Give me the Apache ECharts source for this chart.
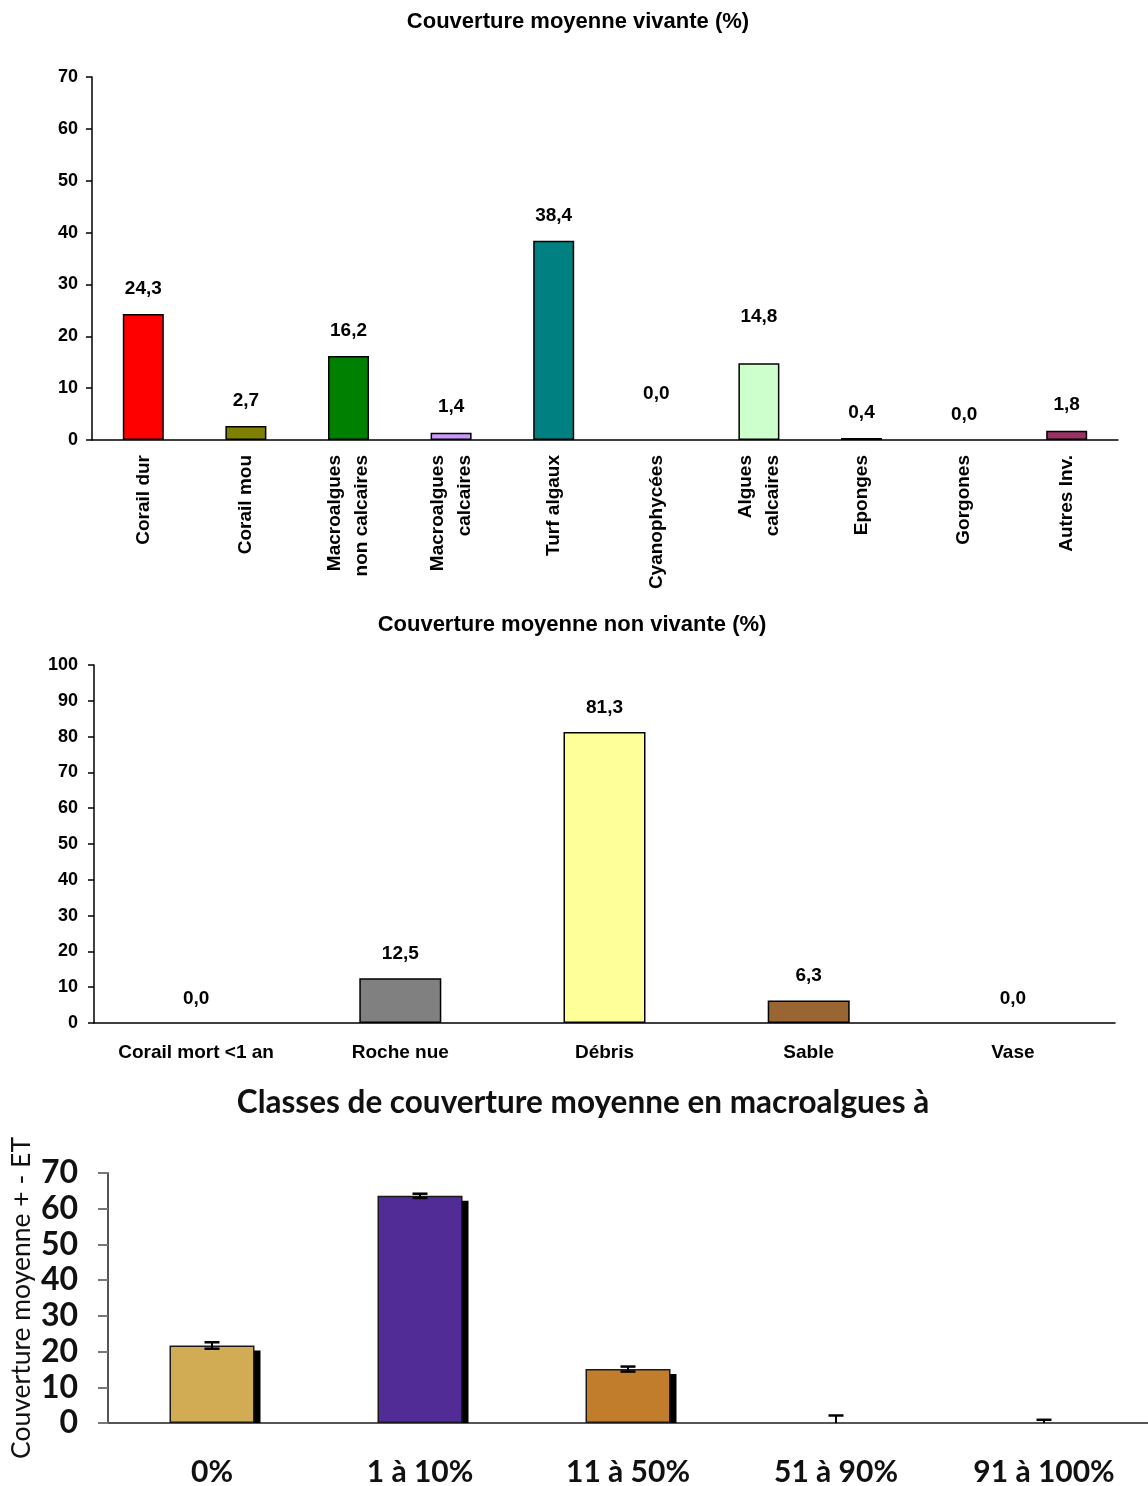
<!DOCTYPE html>
<html>
<head>
<meta charset="utf-8">
<script src="https://cdn.jsdelivr.net/npm/echarts@6/dist/echarts.min.js"></script>
<style>
  html, body { margin: 0; padding: 0; background: #ffffff; }
  #chart { width: 1148px; height: 1486px; }
</style>
</head>
<body>
<div id="chart"></div>
<script>
// --- Couverture moyenne vivante (%) ---
const livingCategories = ['Corail dur', 'Corail mou', 'Macroalgues\nnon calcaires', 'Macroalgues\ncalcaires',
  'Turf algaux', 'Cyanophycées', 'Algues\ncalcaires', 'Eponges', 'Gorgones', 'Autres Inv.'];
const livingValues = [24.3, 2.7, 16.2, 1.4, 38.4, 0.0, 14.8, 0.4, 0.0, 1.8];
const livingColors = ['#ff0000', '#808000', '#008000', '#cc99ff', '#008080', '#ffffff', '#ccffcc', '#333366', '#ffffff', '#993366'];
const livingTicks = [0, 10, 20, 30, 40, 50, 60, 70];

// --- Couverture moyenne non vivante (%) ---
const abioticCategories = ['Corail mort <1 an', 'Roche nue', 'Débris', 'Sable', 'Vase'];
const abioticValues = [0.0, 12.5, 81.3, 6.3, 0.0];
const abioticColors = ['#ffffff', '#808080', '#ffff99', '#996633', '#ffffff'];
const abioticTicks = [0, 10, 20, 30, 40, 50, 60, 70, 80, 90, 100];

// --- Classes de couverture moyenne en macroalgues ---
const classCategories = ['0%', '1 à 10%', '11 à 50%', '51 à 90%', '91 à 100%'];
const classMeans = [21.7, 63.6, 15.1, 0.0, 0.0];
const classErrors = [0.9, 0.6, 0.7, 2.1, 0.9];
const classColors = ['#d2ab55', '#512b96', '#c17c2c', '#888888', '#888888'];
const classTicks = [0, 10, 20, 30, 40, 50, 60, 70];

const SANS = "'Liberation Sans', Arial, sans-serif";
const SOFT = "Lato, 'Open Sans', sans-serif";
const CLASS_BAR_WIDTH = 85;

// labels that sit higher above their bar
const raisedLabels = { 'Cyanophycées': 37, 'Algues\ncalcaires': 37 };

const comma = v => v.toFixed(1).replace('.', ',');
// empty bars leave no outline on the axis
const outline = (v, color, width) => ({ borderColor: color, borderWidth: v > 0 ? width : 0 });

function valueAxis(ticks, gridIndex, extra) {
  return Object.assign({
    type: 'value', gridIndex,
    min: ticks[0], max: ticks[ticks.length - 1], interval: ticks[1] - ticks[0],
    splitLine: { show: false },
    axisLine: { show: true, lineStyle: { color: '#000', width: 1.5 } },
    axisTick: { show: true, length: 6, lineStyle: { color: '#000', width: 1.5 } },
    axisLabel: { color: '#000', fontFamily: SANS, fontWeight: 'bold', fontSize: 18, margin: 14 }
  }, extra || {});
}

const chart = echarts.init(document.getElementById('chart'), null, { renderer: 'canvas' });

const option = {
  backgroundColor: '#ffffff',
  animation: false,
  graphic: [
    { type: 'text', x: 578, y: 22, style: { text: 'Couverture moyenne vivante (%)', font: "bold 22px " + SANS, fill: '#000', align: 'center', verticalAlign: 'middle' } },
    { type: 'text', x: 572, y: 625, style: { text: 'Couverture moyenne non vivante (%)', font: "bold 22px " + SANS, fill: '#000', align: 'center', verticalAlign: 'middle' } },
    { type: 'text', x: 583, y: 1103, style: { text: 'Classes de couverture moyenne en macroalgues à', font: "bold 31.5px " + SOFT, fill: '#111', align: 'center', verticalAlign: 'middle' } }
  ],
  grid: [
    { left: 92, top: 77, width: 1026, height: 363, outerBoundsMode: 'none' },
    { left: 94, top: 665, width: 1021, height: 358, outerBoundsMode: 'none' },
    { left: 108, top: 1173, width: 1040, height: 250, outerBoundsMode: 'none' }
  ],
  xAxis: [
    {
      type: 'category', gridIndex: 0, data: livingCategories,
      axisLine: { lineStyle: { color: '#000', width: 1.5 } },
      axisTick: { length: 8, lineStyle: { color: '#000', width: 1.5 } },
      axisLabel: { rotate: 90, margin: 15, color: '#000', fontFamily: SANS, fontWeight: 'bold', fontSize: 19, lineHeight: 27, interval: 0 }
    },
    {
      type: 'category', gridIndex: 1, data: abioticCategories,
      axisLine: { lineStyle: { color: '#000', width: 1.5 } },
      axisTick: { length: 8, lineStyle: { color: '#000', width: 1.5 } },
      axisLabel: { margin: 20, color: '#000', fontFamily: SANS, fontWeight: 'bold', fontSize: 19, interval: 0 }
    },
    {
      type: 'category', gridIndex: 2, data: classCategories,
      axisLine: { lineStyle: { color: '#555', width: 2 } },
      axisTick: { length: 10, lineStyle: { color: '#888', width: 2 } },
      axisLabel: { margin: 34, color: '#111', fontFamily: SOFT, fontWeight: 'bold', fontSize: 30, interval: 0 }
    }
  ],
  yAxis: [
    valueAxis(livingTicks, 0),
    valueAxis(abioticTicks, 1, { axisLabel: { color: '#000', fontFamily: SANS, fontWeight: 'bold', fontSize: 18, margin: 16 } }),
    valueAxis(classTicks, 2, {
      name: 'Couverture moyenne + - ET', nameLocation: 'middle', nameGap: 73, nameMoveOverlap: false,
      nameTextStyle: { color: '#111', fontFamily: SOFT, fontSize: 26.5 },
      axisLine: { show: true, lineStyle: { color: '#555', width: 2 } },
      axisTick: { show: true, length: 10, lineStyle: { color: '#777', width: 2 } },
      axisLabel: { color: '#111', fontFamily: SOFT, fontWeight: 'bold', fontSize: 32, margin: 30 }
    })
  ],
  series: [
    {
      type: 'bar', xAxisIndex: 0, yAxisIndex: 0, barWidth: 41,
      data: livingValues.map((v, i) => ({
        value: v,
        itemStyle: Object.assign({ color: livingColors[i] }, outline(v, '#000', 1.5)),
        label: { distance: raisedLabels[livingCategories[i]] || 16 }
      })),
      label: { show: true, position: 'top', color: '#000', fontFamily: SANS, fontWeight: 'bold', fontSize: 19, formatter: p => comma(p.value) }
    },
    {
      type: 'bar', xAxisIndex: 1, yAxisIndex: 1, barWidth: 82,
      data: abioticValues.map((v, i) => ({
        value: v,
        itemStyle: Object.assign({ color: abioticColors[i] }, outline(v, '#000', 1.5))
      })),
      label: { show: true, position: 'top', distance: 15, color: '#000', fontFamily: SANS, fontWeight: 'bold', fontSize: 19, formatter: p => comma(p.value) }
    },
    {
      // drop shadow behind each class bar
      type: 'custom', xAxisIndex: 2, yAxisIndex: 2, z: 1,
      data: classMeans.map((v, i) => [i, v]),
      renderItem: (params, api) => {
        const top = api.coord([api.value(0), api.value(1)]);
        const base = api.coord([api.value(0), 0]);
        const h = Math.max(0, base[1] - top[1] - 5);
        return { type: 'rect', shape: { x: top[0] - CLASS_BAR_WIDTH / 2 + 6, y: top[1] + 5, width: CLASS_BAR_WIDTH, height: h }, style: { fill: '#000' } };
      }
    },
    {
      type: 'bar', xAxisIndex: 2, yAxisIndex: 2, barWidth: CLASS_BAR_WIDTH, z: 2,
      data: classMeans.map((v, i) => ({
        value: v,
        itemStyle: Object.assign({ color: classColors[i] }, outline(v, '#1a1a1a', 1.5))
      }))
    },
    {
      // error bars: mean ± ET, cut at the axis floor
      type: 'custom', xAxisIndex: 2, yAxisIndex: 2, z: 3,
      data: classMeans.map((v, i) => [i, v, classErrors[i]]),
      renderItem: (params, api) => {
        const i = api.value(0);
        const m = api.value(1), e = api.value(2);
        const lowVal = Math.max(classTicks[0], m - e);
        const lo = api.coord([i, lowVal]);
        const hi = api.coord([i, m + e]);
        const half = 7.5;
        const children = [
          { type: 'line', shape: { x1: lo[0], y1: lo[1], x2: hi[0], y2: hi[1] }, style: { stroke: '#000', lineWidth: 2 } },
          { type: 'line', shape: { x1: hi[0] - half, y1: hi[1], x2: hi[0] + half, y2: hi[1] }, style: { stroke: '#000', lineWidth: 2.5 } }
        ];
        if (m - e > classTicks[0]) {
          children.push({ type: 'line', shape: { x1: lo[0] - half, y1: lo[1], x2: lo[0] + half, y2: lo[1] }, style: { stroke: '#000', lineWidth: 2.5 } });
        }
        return { type: 'group', children };
      }
    }
  ]
};

chart.setOption(option);
</script>
</body>
</html>
